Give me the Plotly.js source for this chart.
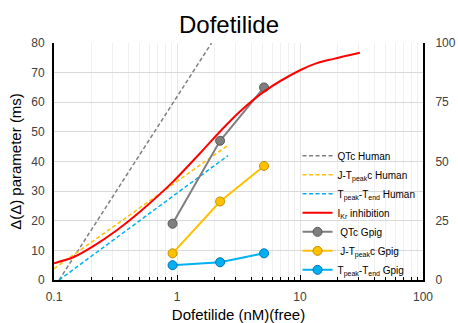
<!DOCTYPE html>
<html>
<head>
<meta charset="utf-8">
<script src="https://cdn.plot.ly/plotly-3.0.1.min.js"></script>
<style>html,body{margin:0;padding:0;background:#fff;}#chart{width:458px;height:323px;}</style>
</head>
<body>
<div id="chart"></div>
<script>
// Human model predictions (dashed lines), left axis (ms)
const qtcHumanX = [0.11, 1.91];
const qtcHumanY = [0, 80];
const jtpcHumanX = [0.1, 2.6];
const jtpcHumanY = [3.8, 45.5];
const tpteHumanX = [0.11, 2.6];
const tpteHumanY = [0, 42];

// IKr inhibition (%), right axis
const ikrX = [0.1, 0.1435, 0.209, 0.324, 0.5, 0.93, 1.54, 2.31, 3.25, 5.13, 10, 13.7, 18.7, 30.7];
const ikrY = [7.1, 9.6, 14.3, 21, 28.8, 41.5, 53.5, 63.4, 71.1, 79.6, 88.5, 91.5, 93.3, 95.9];

// Guinea pig measurements, left axis (ms)
const gpigX = [0.92, 2.24, 5.1];
const qtcGpigY = [19, 47, 65];
const jtpcGpigY = [9, 26.5, 38.5];
const tpteGpigY = [5, 6, 9];

const xTickVals = [0.1, 1, 10, 100];
const xTickText = ['0.1', '1', '10', '100'];

const gray = '#7f7f7f', yellow = '#ffc000', blue = '#00b0f0', red = '#ff0000';

const traces = [
  {x: qtcHumanX, y: qtcHumanY, mode: 'lines', name: 'QTc Human',
   line: {color: gray, width: 1.5, dash: '4px,2.5px'}},
  {x: jtpcHumanX, y: jtpcHumanY, mode: 'lines', name: 'J-T<sub>peak</sub>c Human',
   line: {color: yellow, width: 1.5, dash: '4px,2.5px'}},
  {x: tpteHumanX, y: tpteHumanY, mode: 'lines', name: 'T<sub>peak</sub>-T<sub>end</sub> Human',
   line: {color: blue, width: 1.5, dash: '4px,2.5px'}},
  {x: ikrX, y: ikrY, mode: 'lines', name: 'I<sub>Kr</sub> inhibition', yaxis: 'y2',
   line: {color: red, width: 2, shape: 'spline', smoothing: 0.8}},
  {x: gpigX, y: qtcGpigY, mode: 'lines+markers', name: '\u00a0QTc Gpig',
   line: {color: gray, width: 2}, marker: {size: 9, color: gray, line: {color: '#595959', width: 1}}},
  {x: gpigX, y: jtpcGpigY, mode: 'lines+markers', name: '\u00a0J-T<sub>peak</sub>c Gpig',
   line: {color: yellow, width: 2}, marker: {size: 9, color: yellow, line: {color: '#bf9000', width: 1}}},
  {x: gpigX, y: tpteGpigY, mode: 'lines+markers', name: 'T<sub>peak</sub>-T<sub>end</sub> Gpig',
   line: {color: blue, width: 2}, marker: {size: 9, color: blue, line: {color: '#0070c0', width: 1}}}
];

const layout = {
  width: 458, height: 323,
  margin: {l: 54, r: 35, t: 43, b: 43},
  paper_bgcolor: '#fff', plot_bgcolor: '#fff',
  font: {family: '"Liberation Sans", Arial, sans-serif', color: '#404040', size: 12},
  title: {text: 'Dofetilide', font: {size: 24, color: '#000'}, x: 0.5, xanchor: 'center', y: 0.925, yanchor: 'middle'},
  showlegend: true,
  legend: {x: 0.66, y: 0.585, xanchor: 'left', yanchor: 'top', bgcolor: 'rgba(255,255,255,0)',
           font: {size: 10, color: '#000'}, itemwidth: 30},
  xaxis: {
    type: 'log', range: [-1, 2],
    tickvals: xTickVals, ticktext: xTickText,
    ticks: 'inside', ticklen: 5, tickcolor: '#000', ticklabelstandoff: 5,
    showline: true, linecolor: '#000', linewidth: 2,
    showgrid: true, gridcolor: '#e6e6e6', gridwidth: 1,
    minor: {dtick: 'D1', showgrid: true, gridcolor: '#f0f0f0', ticks: 'inside', ticklen: 3, tickcolor: '#000'},
    zeroline: false,
    title: {text: 'Dofetilide (nM)(free)', font: {size: 15, color: '#000'}, standoff: 6}
  },
  yaxis: {
    range: [0, 80], dtick: 10,
    showline: true, linecolor: '#000', linewidth: 2, mirror: false,
    showgrid: true, gridcolor: '#d9d9d9', zeroline: false,
    ticks: '', ticklabelstandoff: 5,
    title: {text: '\u0394(\u0394) parameter (ms)', font: {size: 15, color: '#000'}, standoff: 6}
  },
  yaxis2: {
    range: [0, 100], dtick: 25, overlaying: 'y', side: 'right',
    showline: true, linecolor: '#000', linewidth: 2,
    showgrid: false, zeroline: false, ticks: '', ticklabelstandoff: 8
  }
};

Plotly.newPlot('chart', traces, layout, {displayModeBar: false, staticPlot: true});
</script>
</body>
</html>
